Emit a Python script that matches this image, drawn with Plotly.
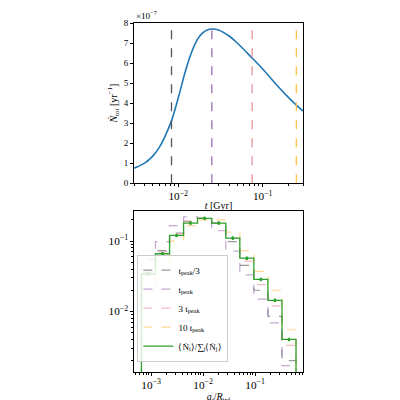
import plotly.graph_objects as go

# top panel: total rate vs time
t_gyr = [0.003, 0.004, 0.005, 0.006, 0.007, 0.0083, 0.01, 0.012, 0.014, 0.016, 0.018,
         0.02, 0.022, 0.025, 0.03, 0.04, 0.05, 0.075, 0.1, 0.15, 0.2, 0.25, 0.3]
ndot_tot = [0.75, 1.0, 1.35, 1.8, 2.35, 3.1, 4.25, 5.5, 6.4, 7.0, 7.35,
            7.55, 7.65, 7.7, 7.65, 7.35, 7.0, 6.25, 5.7, 4.85, 4.3, 3.9, 3.6]
t_peak = 0.025
vline_t = [t_peak / 3, t_peak, 3 * t_peak, 10 * t_peak]
vline_col = ['#555555', '#9b6fb5', '#e8909c', '#ffc04d']

# bottom panel: fraction per bin in a_i / R_inf
bin_edges = [6.5e-4, 1.21e-3, 2.26e-3, 4.2e-3, 7.8e-3, 0.0146, 0.0272,
             0.0507, 0.0944, 0.176, 0.328, 0.61]
frac_mean = [0.034, 0.066, 0.12, 0.18, 0.21, 0.18, 0.11, 0.057, 0.0285, 0.0144, 0.0040]
frac_tq = [0.036, 0.073, 0.13, 0.19, 0.21, 0.18, 0.098, 0.045, 0.020, 0.0085, 0.0020]
frac_t1 = [0.055, 0.098, 0.165, 0.22, 0.21, 0.14, 0.072, 0.033, 0.015, 0.0069, 0.0017]
frac_t3 = [0.035, 0.070, 0.127, 0.19, 0.21, 0.18, 0.11, 0.052, 0.024, 0.012, 0.0033]
frac_t10 = [0.025, 0.050, 0.10, 0.165, 0.20, 0.20, 0.134, 0.073, 0.037, 0.020, 0.0055]
hist_names = ['t<sub>peak</sub>/3', 't<sub>peak</sub>', '3 t<sub>peak</sub>', '10 t<sub>peak</sub>']

FONT = dict(family='Liberation Serif', size=9, color='black')
TFONT = dict(family='Liberation Serif', size=10, color='black')


def step_xy(edges, vals):
    xs = [edges[0]]
    ys = [1e-5]
    for i, v in enumerate(vals):
        xs += [edges[i], edges[i + 1]]
        ys += [v, v]
    xs.append(edges[-1])
    ys.append(1e-5)
    return xs, ys


fig = go.Figure()
fig.add_trace(go.Scatter(x=t_gyr, y=ndot_tot, mode='lines', line=dict(color='#1f77b4', width=1.6, shape='spline'),
                         showlegend=False, xaxis='x', yaxis='y'))
for t, c in zip(vline_t, vline_col):
    fig.add_trace(go.Scatter(x=[t, t], y=[0, 8], mode='lines', line=dict(color=c, width=1.3, dash='dash'),
                             showlegend=False, xaxis='x', yaxis='y'))

for vals, c, n in zip([frac_tq, frac_t1, frac_t3, frac_t10], vline_col, hist_names):
    xs, ys = step_xy(bin_edges, vals)
    fig.add_trace(go.Scatter(x=xs, y=ys, mode='lines', name=n, opacity=0.6,
                             line=dict(color=c, width=1.2, dash='dash'), xaxis='x2', yaxis='y2'))
xs, ys = step_xy(bin_edges, frac_mean)
fig.add_trace(go.Scatter(x=xs, y=ys, mode='lines', name='⟨Ṅ<sub>i</sub>⟩/∑<sub>j</sub>⟨Ṅ<sub>j</sub>⟩',
                         line=dict(color='#2ca02c', width=1.3), xaxis='x2', yaxis='y2'))
centers = [(bin_edges[i] * bin_edges[i + 1]) ** 0.5 for i in range(len(frac_mean))]
fig.add_trace(go.Scatter(x=centers, y=frac_mean, mode='markers', marker=dict(color='#2ca02c', size=3),
                         error_y=dict(type='percent', value=4, color='#2ca02c', thickness=1, width=1),
                         showlegend=False, xaxis='x2', yaxis='y2'))

ax = dict(showline=True, linecolor='black', mirror=True, ticks='outside', ticklen=3, tickcolor='black',
          showgrid=False, zeroline=False, tickfont=FONT)
logx = dict(ax, type='log', exponentformat='power', dtick=1,
            minor=dict(ticks='outside', ticklen=2, tickcolor='black', showgrid=False))

fig.update_layout(
    width=400, height=400, margin=dict(l=126, r=105, t=10, b=24),
    paper_bgcolor='white', plot_bgcolor='white', font=FONT,
    xaxis=dict(logx, domain=[0, 1], range=[-2.523, -0.523], anchor='y',
               title=dict(text='<i>t</i> [Gyr]', font=TFONT, standoff=0)),
    yaxis=dict(ax, domain=[0.541, 1], range=[0, 8], dtick=1, anchor='x',
               title=dict(text='<i>Ṅ</i><sub>tot</sub> [yr<sup>−1</sup>]', font=TFONT, standoff=4)),
    xaxis2=dict(logx, domain=[0, 1], range=[-3.33, -0.08], anchor='y2',
                title=dict(text='<i>a<sub>i</sub></i>/<i>R</i><sub>inf</sub>', font=TFONT, standoff=0)),
    yaxis2=dict(ax, type='log', exponentformat='power', dtick=1, domain=[0, 0.462], range=[-2.86, -0.57],
                anchor='x2', minor=dict(ticks='outside', ticklen=2, tickcolor='black', showgrid=False)),
    legend=dict(x=0.02, y=0.03, xanchor='left', yanchor='bottom', bgcolor='rgba(255,255,255,0.8)',
                bordercolor='#cccccc', borderwidth=1, font=dict(family='Liberation Serif', size=9),
                tracegroupgap=0, itemwidth=30),
    annotations=[dict(text='×10<sup>−7</sup>', x=0, y=1, xref='x domain', yref='y domain',
                      xanchor='left', yanchor='bottom', showarrow=False, font=dict(family='Liberation Serif', size=9))],
)

fig.write_html('out.html')
